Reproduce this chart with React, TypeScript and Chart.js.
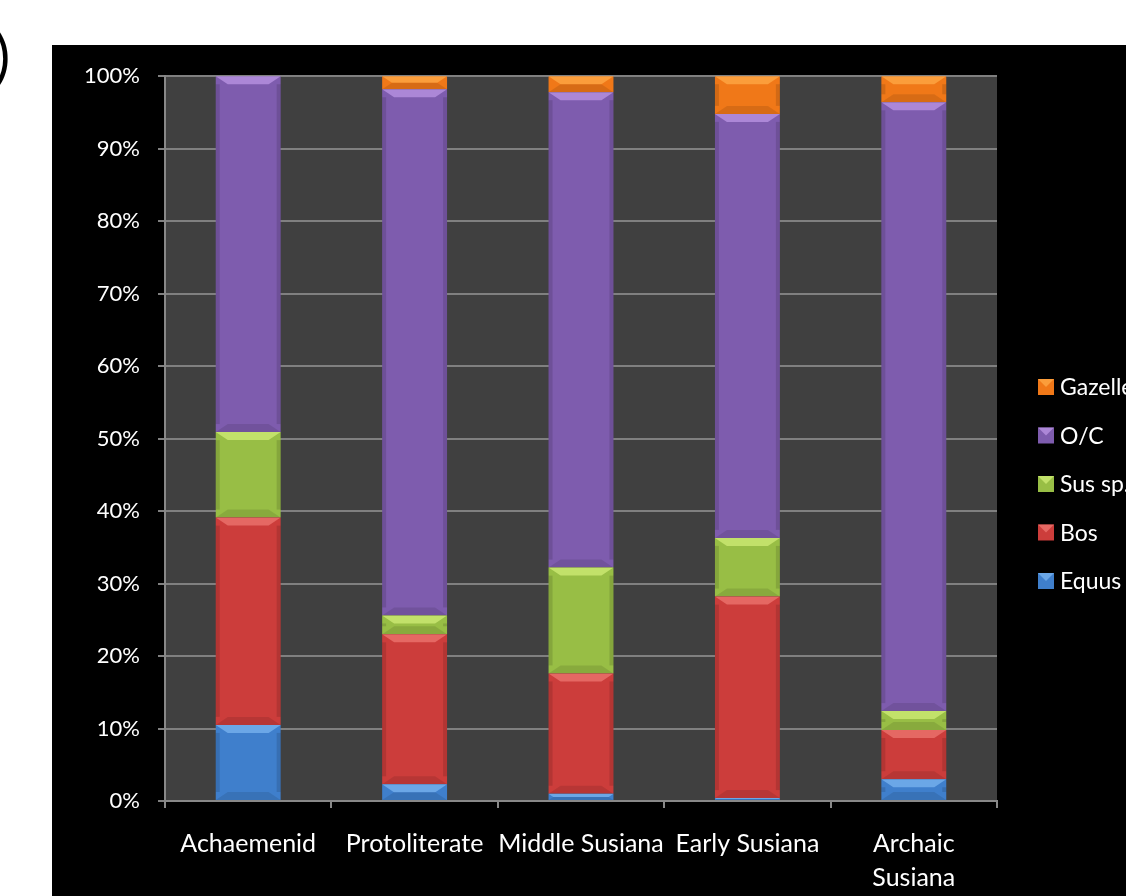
import React, { useEffect, useRef } from "react";
import { Chart, registerables } from "chart.js";
Chart.register(...registerables);

const categories: (string | string[])[] = ["Achaemenid", "Protoliterate", "Middle Susiana", "Early Susiana", ["Archaic", "Susiana"]];
const equus = [10.5, 2.3, 1.0, 0.4, 3.0];
const bos = [28.6, 20.7, 16.6, 27.8, 6.8];
const susSp = [11.8, 2.6, 14.6, 8.1, 2.6];
const oc = [49.1, 72.6, 65.6, 58.5, 84.0];
const gazelle = [0, 1.8, 2.2, 5.2, 3.6];
const seriesNames = ["Equus", "Bos", "Sus sp.", "O/C", "Gazelle"];
const seriesColors = ["#3f7fcc", "#cc3d3b", "#98be45", "#7e5cae", "#f07818"];
const seriesLight = ["#7fb8f2", "#f07a75", "#d4f07a", "#c09ae8", "#ffac4a"];

const FONT = "Lato";

const bgPlugin = {
  id: "bg",
  beforeDraw(chart: any) {
    const { ctx, chartArea: a } = chart;
    ctx.save();
    ctx.fillStyle = "#000000";
    ctx.fillRect(0, 0, chart.width, chart.height);
    ctx.fillStyle = "#404040";
    ctx.fillRect(a.left, a.top, a.right - a.left, a.bottom - a.top);
    ctx.restore();
  },
};

const bevelPlugin = {
  id: "bevel",
  afterDatasetsDraw(chart: any) {
    const ctx = chart.ctx;
    chart.data.datasets.forEach((ds: any, di: number) => {
      const meta = chart.getDatasetMeta(di);
      meta.data.forEach((bar: any) => {
        const { x, y, base, width } = bar.getProps(["x", "y", "base", "width"], true);
        const top = Math.min(y, base);
        const bottom = Math.max(y, base);
        const h = bottom - top;
        if (h < 1) return;
        const l = x - width / 2;
        const r = x + width / 2;
        const b = Math.min(8, h / 2);
        ctx.save();
        ctx.fillStyle = seriesLight[di];
        ctx.globalAlpha = 0.7;
        ctx.beginPath();
        ctx.moveTo(l, top);
        ctx.lineTo(r, top);
        ctx.lineTo(r - b * 1.5, top + b);
        ctx.lineTo(l + b * 1.5, top + b);
        ctx.closePath();
        ctx.fill();
        ctx.globalAlpha = 0.1;
        ctx.fillStyle = "#000";
        ctx.beginPath();
        ctx.moveTo(l, bottom);
        ctx.lineTo(r, bottom);
        ctx.lineTo(r - b * 1.5, bottom - b);
        ctx.lineTo(l + b * 1.5, bottom - b);
        ctx.closePath();
        ctx.fill();
        ctx.globalAlpha = 0.12;
        ctx.fillRect(l, top + b, 4, h - 2 * b);
        ctx.fillRect(r - 4, top + b, 4, h - 2 * b);
        ctx.restore();
      });
    });
  },
};

const legendPlugin = {
  id: "customLegend",
  afterDraw(chart: any) {
    const ctx = chart.ctx;
    ctx.save();
    const x0 = 986;
    const y0 = 342;
    const step = 48.5;
    const order = [4, 3, 2, 1, 0];
    order.forEach((di, i) => {
      const cy = y0 + i * step;
      ctx.fillStyle = seriesColors[di];
      ctx.fillRect(x0, cy - 8, 16, 16);
      ctx.fillStyle = seriesLight[di];
      ctx.globalAlpha = 0.7;
      ctx.beginPath();
      ctx.moveTo(x0, cy - 8);
      ctx.lineTo(x0 + 16, cy - 8);
      ctx.lineTo(x0 + 8, cy);
      ctx.closePath();
      ctx.fill();
      ctx.globalAlpha = 1;
      ctx.fillStyle = "#ffffff";
      ctx.font = `23px ${FONT}`;
      ctx.textBaseline = "middle";
      ctx.textAlign = "left";
      ctx.fillText(seriesNames[di], x0 + 22, cy + 1);
    });
    ctx.restore();
  },
};

export default function App() {
  const ref = useRef<HTMLCanvasElement | null>(null);
  useEffect(() => {
    if (!ref.current) return;
    const values = [equus, bos, susSp, oc, gazelle];
    const chart = new Chart(ref.current, {
      type: "bar",
      data: {
        labels: categories as any,
        datasets: values.map((v, i) => ({
          label: seriesNames[i],
          data: v,
          backgroundColor: seriesColors[i],
          borderWidth: 0,
          categoryPercentage: 1,
          barPercentage: 0.39,
        })),
      },
      options: {
        responsive: false,
        animation: false,
        layout: { padding: { top: 29, right: 129, left: 0, bottom: 0 } },
        plugins: { legend: { display: false }, tooltip: { enabled: false } },
        scales: {
          x: {
            stacked: true,
            offset: true,
            grid: {
              display: true,
              drawOnChartArea: false,
              drawTicks: true,
              tickLength: 7,
              color: "#888888",
              lineWidth: 2,
              offset: true,
            },
            border: { display: true, color: "#888888", width: 2 },
            ticks: {
              color: "#ffffff",
              font: { family: FONT, size: 25, lineHeight: 1.36 },
              padding: 19,
              maxRotation: 0,
              autoSkip: false,
            },
            afterFit(scale: any) {
              scale.height = 95;
            },
          },
          y: {
            stacked: true,
            min: 0,
            max: 100,
            ticks: {
              stepSize: 10,
              color: "#ffffff",
              font: { family: FONT, size: 22 },
              padding: 18,
              callback: (v: any) => `${v}%`,
            },
            grid: { color: "#808080", lineWidth: 2, tickLength: 7 },
            border: { display: true, color: "#888888", width: 2 },
            afterFit(scale: any) {
              scale.width = 113;
            },
          },
        },
      },
      plugins: [bgPlugin, bevelPlugin, legendPlugin],
    });
    return () => chart.destroy();
  }, []);

  return (
    <div style={{ position: "fixed", left: 0, top: 0, width: 1126, height: 896, background: "#ffffff", overflow: "hidden" }}>
      <div
        style={{
          position: "absolute",
          left: -36,
          top: 24,
          fontFamily: FONT,
          fontSize: 58,
          lineHeight: "62px",
          color: "#000",
        }}
      >
        b)
      </div>
      <canvas ref={ref} width={1074} height={851} style={{ position: "absolute", left: 52, top: 45, width: 1074, height: 851 }} />
    </div>
  );
}
